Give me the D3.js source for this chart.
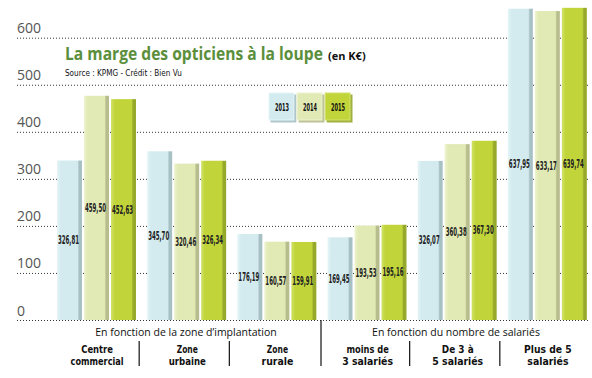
<!DOCTYPE html>
<html>
<head>
<meta charset="utf-8">
<script src="https://d3js.org/d3.v7.min.js"></script>
<style>
  body { margin: 0; background: #fff; }
  svg { display: block; }
</style>
</head>
<body>
<svg id="chart"></svg>
<script>
// data
const categories = ["Centre commercial", "Zone urbaine", "Zone rurale", "moins de 3 salariés", "De 3 à 5 salariés", "Plus de 5 salariés"];
const categoryLines = [["Centre", "commercial"], ["Zone", "urbaine"], ["Zone", "rurale"], ["moins de", "3 salariés"], ["De 3 à", "5 salariés"], ["Plus de 5", "salariés"]];
const years = ["2013", "2014", "2015"];
const values2013 = [326.81, 345.70, 176.19, 169.45, 326.07, 637.95];
const values2014 = [459.50, 320.46, 160.57, 193.53, 360.38, 633.17];
const values2015 = [452.63, 326.34, 159.91, 195.16, 367.30, 639.74];
const labels2013 = ["326,81", "345,70", "176,19", "169,45", "326,07", "637,95"];
const labels2014 = ["459,50", "320,46", "160,57", "193,53", "360,38", "633,17"];
const labels2015 = ["452,63", "326,34", "159,91", "195,16", "367,30", "639,74"];
const yTicks = [0, 100, 200, 300, 400, 500, 600];
const sections = ["En fonction de la zone d’implantation", "En fonction du nombre de salariés"];

const colors = {
  "2013": { light: "#e6f5f7", base: "#d3ebef", dark: "#a6c0c4" },
  "2014": { light: "#eef3cf", base: "#e1eab4", dark: "#b7bd8c" },
  "2015": { light: "#d2e26a", base: "#c1d53a", dark: "#97a92b" }
};

const width = 592, height = 378;
const svg = d3.select("#chart").attr("width", width).attr("height", height);

const narrow = "'Liberation Sans Narrow', 'DejaVu Sans Condensed', sans-serif";
const sans = "'Open Sans', sans-serif";

// squeeze a text horizontally to a given width, keeping its height
function fit(sel, w) {
  sel.each(function () {
    const t = d3.select(this);
    const x = +t.attr("x"), y = +t.attr("y");
    const n = this.getBBox().width;
    const s = Math.min(1, w / n);
    t.attr("x", 0).attr("y", 0).attr("transform", `translate(${x},${y}) scale(${s},1)`);
  });
}

// axis grid scale and bar scale (the original graphic draws bars a bit taller than the grid)
const yAxis = d3.scaleLinear().domain([0, 600]).range([320, 37.7]);
const yBar = d3.scaleLinear().domain([0, 640]).range([320, 7.7]);
const x0 = d3.scaleBand().domain(categories).range([49, 590]);
const x1 = d3.scaleBand().domain(years).range([8, 87]).paddingInner(0.074);

// gradients
const defs = svg.append("defs");
years.forEach(y => {
  const g = defs.append("linearGradient").attr("id", "g" + y).attr("x1", 0).attr("x2", 1).attr("y1", 0).attr("y2", 0);
  g.append("stop").attr("offset", "0%").attr("stop-color", colors[y].light);
  g.append("stop").attr("offset", "15%").attr("stop-color", colors[y].base);
  g.append("stop").attr("offset", "82%").attr("stop-color", colors[y].base);
  g.append("stop").attr("offset", "88%").attr("stop-color", colors[y].dark);
  g.append("stop").attr("offset", "100%").attr("stop-color", colors[y].dark);
});

// grid lines + tick labels
svg.append("g").selectAll("line").data(yTicks).join("line")
  .attr("x1", 17).attr("x2", 590)
  .attr("y1", d => yAxis(d) + 0.5).attr("y2", d => yAxis(d) + 0.5)
  .attr("stroke", "#333").attr("stroke-width", 1).attr("stroke-dasharray", "1,2");

svg.append("g").selectAll("text").data(yTicks).join("text")
  .attr("x", 17).attr("y", d => yAxis(d) - (d === 0 ? 4 : 5))
  .attr("font-family", sans).attr("font-size", 14)
  .attr("fill", "#555")
  .text(d => d);

// title
svg.append("text").attr("x", 65).attr("y", 60)
  .attr("font-family", sans).attr("font-weight", 700).attr("font-size", 17.5)
  .attr("fill", "#5b8f3c")
  .text("La marge des opticiens à la loupe")
  .call(fit, 258);
svg.append("text").attr("x", 328).attr("y", 60)
  .attr("font-family", sans).attr("font-weight", 700).attr("font-size", 11)
  .attr("fill", "#111")
  .text("(en K€)")
  .call(fit, 50);
svg.append("text").attr("x", 65).attr("y", 76)
  .attr("font-family", narrow).attr("font-size", 9)
  .attr("fill", "#111")
  .text("Source : KPMG - Crédit : Bien Vu")
  .call(fit, 117);

// legend
const legendX = d3.scaleBand().domain(years).range([269, 351]).paddingInner(0.08);
const legend = svg.append("g").selectAll("g").data(years).join("g")
  .attr("transform", d => `translate(${legendX(d)},93)`);
legend.append("rect").attr("x", 1.5).attr("y", 1.5).attr("width", legendX.bandwidth()).attr("height", 28)
  .attr("fill", d => colors[d].dark).attr("opacity", 0.9);
legend.append("rect").attr("width", legendX.bandwidth() - 1).attr("height", 27)
  .attr("fill", d => colors[d].base)
  .attr("stroke", d => colors[d].light).attr("stroke-width", 1);
legend.append("text").attr("x", legendX.bandwidth() / 2).attr("y", 17.5)
  .attr("text-anchor", "middle")
  .attr("font-family", narrow)
  .attr("font-weight", 700).attr("font-size", 10).attr("fill", "#111")
  .text(d => d)
  .call(fit, 14);

// bars
const rows = categories.map((c, i) => ({
  cat: c,
  items: [
    { year: "2013", v: values2013[i], label: labels2013[i] },
    { year: "2014", v: values2014[i], label: labels2014[i] },
    { year: "2015", v: values2015[i], label: labels2015[i] }
  ]
}));

const groups = svg.append("g").selectAll("g").data(rows).join("g")
  .attr("transform", d => `translate(${x0(d.cat)},0)`);

groups.selectAll("rect").data(d => d.items).join("rect")
  .attr("x", d => x1(d.year))
  .attr("y", d => yBar(d.v))
  .attr("width", x1.bandwidth())
  .attr("height", d => yBar(0) - yBar(d.v))
  .attr("fill", d => `url(#g${d.year})`);

groups.selectAll("text").data(d => d.items).join("text")
  .attr("x", d => x1(d.year) + x1.bandwidth() / 2 - 1)
  .attr("y", d => (yBar(d.v) + yBar(0)) / 2 + 4)
  .attr("text-anchor", "middle")
  .attr("font-family", narrow)
  .attr("font-weight", 700).attr("font-size", 12).attr("fill", "#222")
  .text(d => d.label)
  .call(fit, 21);

// bottom labels and dividers
const bottom = svg.append("g");
bottom.append("line").attr("x1", 321).attr("x2", 321).attr("y1", 320).attr("y2", 366)
  .attr("stroke", "#111").attr("stroke-width", 1.2);
bottom.selectAll(".div").data(categories.filter((c, i) => i > 0 && i !== 3)).join("line")
  .attr("class", "div")
  .attr("x1", d => x0(d)).attr("x2", d => x0(d))
  .attr("y1", 341).attr("y2", 366)
  .attr("stroke", "#111").attr("stroke-width", 1.2);

bottom.selectAll(".sec").data(sections).join("text")
  .attr("class", "sec")
  .attr("x", (d, i) => i === 0 ? 186 : 456).attr("y", 336)
  .attr("text-anchor", "middle")
  .attr("font-family", sans).attr("font-size", 10.5).attr("fill", "#111")
  .text(d => d);

// two-line category names
categories.forEach((c, i) => {
  categoryLines[i].forEach((line, j) => {
    bottom.append("text")
      .attr("x", x0(c) + x0.bandwidth() / 2 + 3)
      .attr("y", 353 + j * 12.2)
      .attr("text-anchor", "middle")
      .attr("font-family", narrow).attr("font-weight", 700)
      .attr("font-size", 10.4).attr("fill", "#111")
      .text(line)
      .call(fit, line.length * 5.3);
  });
});
</script>
</body>
</html>
